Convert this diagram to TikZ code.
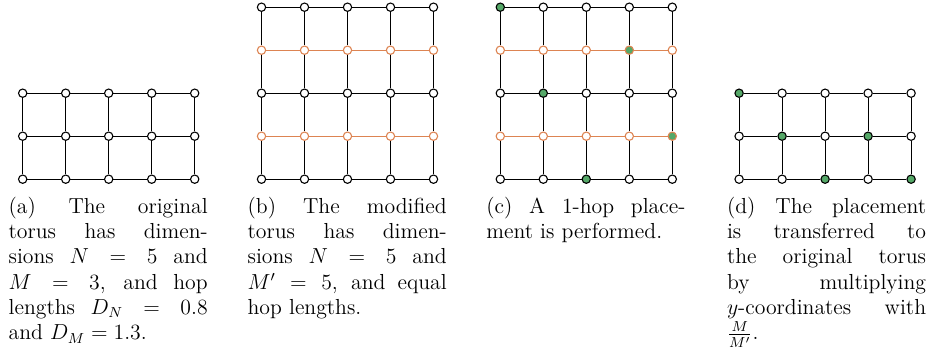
\documentclass[11pt,tikz,border=0pt]{standalone}
\usetikzlibrary{positioning}

\definecolor{rowor}{RGB}{221,132,82}
\definecolor{placegr}{RGB}{85,168,104}

\tikzset{
	vertex/.style={circle, draw=black, fill=white, line width=0.6pt, inner sep=0pt, minimum size=4.6pt},
	link/.style={line width=0.6pt},
	caption/.style={anchor=base west, inner sep=0pt, text width=109.8pt, align=justify, font=\fontsize{12}{14}\selectfont},
}

\begin{document}
\begin{tikzpicture}[x=0.5516pt, y=-0.5516pt]

	\useasboundingbox (0,0) rectangle (930,351);

	% (a) original torus, 5 x 3
	\foreach \r in {1,2,3}
		\foreach \c in {1,...,5}
			\node[vertex] (a-\r-\c) at ({22.7+43*(\c-1)}, {93.2+43*(\r-1)}) {};
	\foreach \r in {1,2,3}
		\foreach \c [count=\n from 2] in {1,...,4}
			\draw[link] (a-\r-\c) -- (a-\r-\n);
	\foreach \c in {1,...,5}
		\foreach \r [count=\n from 2] in {1,2}
			\draw[link] (a-\r-\c) -- (a-\n-\c);

	% (b) modified torus, 5 x 5, new rows in orange
	\foreach \r/\rc in {1/black, 2/rowor, 3/black, 4/rowor, 5/black} {
		\foreach \c in {1,...,5}
			\node[vertex, draw=\rc] (b-\r-\c) at ({261.5+43*(\c-1)}, {7.2+43*(\r-1)}) {};
		\foreach \c [count=\n from 2] in {1,...,4}
			\draw[link, \rc] (b-\r-\c) -- (b-\r-\n);
	}
	\foreach \c in {1,...,5}
		\foreach \r [count=\n from 2] in {1,...,4}
			\draw[link] (b-\r-\c) -- (b-\n-\c);

	% (c) 1-hop placement on the modified torus
	\foreach \r/\rc/\g in {1/black/1, 2/rowor/4, 3/black/2, 4/rowor/5, 5/black/3} {
		\foreach \c in {1,...,5} {
			\def\fc{white}
			\ifnum\c=\g \def\fc{placegr}\fi
			\node[vertex, draw=\rc, fill=\fc] (c-\r-\c) at ({500.3+43*(\c-1)}, {7.2+43*(\r-1)}) {};
		}
		\foreach \c [count=\n from 2] in {1,...,4}
			\draw[link, \rc] (c-\r-\c) -- (c-\r-\n);
	}
	\foreach \c in {1,...,5}
		\foreach \r [count=\n from 2] in {1,...,4}
			\draw[link] (c-\r-\c) -- (c-\n-\c);

	% (d) placement moved back to the original torus
	\foreach \r/\ga/\gb in {1/1/0, 2/2/4, 3/3/5} {
		\foreach \c in {1,...,5} {
			\def\fc{white}
			\ifnum\c=\ga \def\fc{placegr}\fi
			\ifnum\c=\gb \def\fc{placegr}\fi
			\node[vertex, fill=\fc] (d-\r-\c) at ({739.1+43*(\c-1)}, {93.2+43*(\r-1)}) {};
		}
		\foreach \c [count=\n from 2] in {1,...,4}
			\draw[link] (d-\r-\c) -- (d-\r-\n);
	}
	\foreach \c in {1,...,5}
		\foreach \r [count=\n from 2] in {1,2}
			\draw[link] (d-\r-\c) -- (d-\n-\c);

	% captions
	\node[caption] (cap-a) at (8.3, 213) {(a) The original\linebreak torus has dimen-\linebreak sions $N = 5$ and\linebreak $M = 3$, and hop\linebreak lengths $D_N = 0.8$\linebreak and $D_M = 1.3$.};
	\node[caption] (cap-b) at (247.3, 213) {(b) The modified\linebreak torus has dimen-\linebreak sions $N = 5$ and\linebreak $M' = 5$, and equal\linebreak hop lengths.};
	\node[caption] (cap-c) at (486, 213) {(c) A 1-hop place-\linebreak ment is performed.};
	\node[caption] (cap-d) at (726.7, 213) {(d) The placement\linebreak is transferred to\linebreak the original torus\linebreak by multiplying\linebreak $y$-coordinates with\linebreak $\frac{M}{M'}$.};

\end{tikzpicture}
\end{document}
